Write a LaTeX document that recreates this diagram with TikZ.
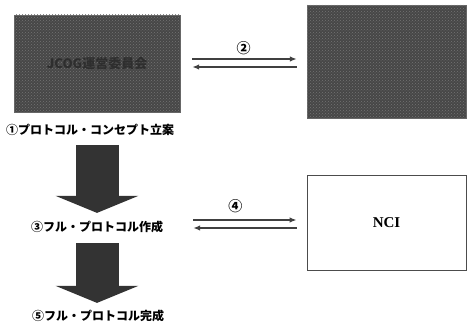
\documentclass[tikz,border=0pt]{standalone}
\usepackage{fontspec}
\setmainfont{Noto Sans CJK JP}
\newfontfamily\ncifont{Liberation Serif}
\usetikzlibrary{arrows.meta,positioning,patterns}

\begin{document}
\begin{tikzpicture}[
  x=1pt, y=-1pt,
  font=\bfseries\fontsize{12}{14}\selectfont,
  darkbox/.style={draw=black!60, fill=black!72, inner sep=0pt,
    postaction={pattern=crosshatch dots, pattern color=black!55}},
  whitebox/.style={draw=black!70, line width=0.8pt, fill=white, inner sep=0pt},
  stage/.style={inner sep=1pt},
  num/.style={font=\bfseries\fontsize{14}{16}\selectfont},
  bigarrow/.style={line width=43pt, draw=black!80, -{Triangle[length=17pt,width=82pt]}},
  flow/.style={line width=2pt, draw=black!75, -{Latex[length=7pt,width=5.5pt]}}
]
\useasboundingbox (0,0) rectangle (469,328);

% organisations
\node[darkbox, minimum width=166pt, minimum height=97pt] (jcog) at (97,63.5)
  {\fontsize{13}{15}\selectfont\color{black!82}JCOG運営委員会};
\node[darkbox, minimum width=159pt, minimum height=113pt] (partner) at (386.5,61.5) {};
\node[whitebox, minimum width=159pt, minimum height=95pt] (nci) at (386.5,222.5)
  {\ncifont\fontsize{15}{17}\selectfont NCI};

% stages
\node[stage] (s1) at (90,130) {①プロトコル・コンセプト立案};
\node[stage] (s3) at (97,227) {③フル・プロトコル作成};
\node[stage] (s5) at (98,316) {⑤フル・プロトコル完成};

\draw[bigarrow, shorten <=8pt, shorten >=7pt] (s1.south -| s3.north) -- (s3.north);
\draw[bigarrow, shorten <=9pt, shorten >=6pt] (s3.south) -- (s5.north -| s3.south);

% exchanges
\draw[flow, shorten <=12pt, shorten >=10pt]
  ([yshift=4.5pt]jcog.east) -- node[num, above=0pt] {②} ([yshift=4.5pt]jcog.east -| partner.west);
\draw[flow, shorten <=10pt, shorten >=12pt]
  ([yshift=-3.5pt]jcog.east -| partner.west) -- ([yshift=-3.5pt]jcog.east);
\draw[flow, shorten <=29pt, shorten >=10pt]
  ([yshift=2.5pt]nci.west -| s3.east) -- node[num, above=3pt] {④} ([yshift=2.5pt]nci.west);
\draw[flow, shorten <=10pt, shorten >=29pt]
  ([yshift=-5.5pt]nci.west) -- ([yshift=-5.5pt]nci.west -| s3.east);
\end{tikzpicture}
\end{document}
